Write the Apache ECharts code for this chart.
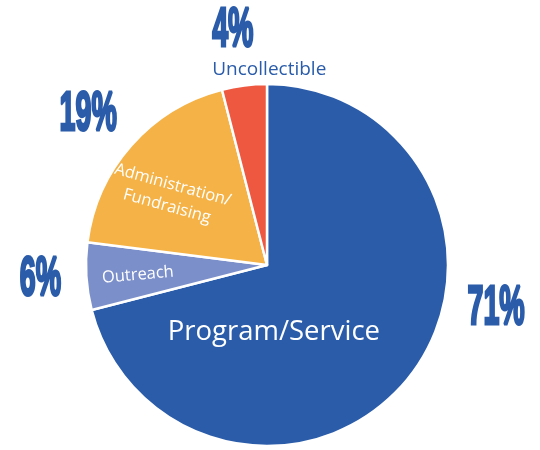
<!DOCTYPE html>
<html>
<head>
<meta charset="utf-8">
<script src="https://cdn.jsdelivr.net/npm/echarts@6/dist/echarts.min.js"></script>
<style>html,body{margin:0;padding:0;background:#fff}#c{width:540px;height:450px}</style>
</head>
<body>
<div id="c"></div>
<script>
const categories = ['Program/Service', 'Outreach', 'Administration/\nFundraising', 'Uncollectible'];
const values = [71, 6, 19, 4];
const percentLabels = ['71%', '6%', '19%', '4%'];
const colors = ['#2A5CAA', '#7B8FCA', '#F5B246', '#EE5840'];

const BLUE = '#2A5CAA';
const PCT_SCALE = 0.52;
// per-label styling (not data)
const nameStyle = [
  {fontSize: 27.5, rotate: 0, color: '#fff', dx: -67, dy: 10},
  {fontSize: 16.5, rotate: 5, color: '#fff', dx: -36, dy: 1},
  {fontSize: 16.5, rotate: -15.5, color: '#fff', dx: -28, dy: 0},
  {fontSize: 19, rotate: 0, color: BLUE, dx: 14, dy: -103}
];
const pctShift = [
  {dx: 45, dy: -99},
  {dx: 6, dy: 0},
  {dx: -4, dy: 4},
  {dx: -5, dy: -3}
];

const chart = echarts.init(document.getElementById('c'));
chart.setOption({
  animation: false,
  series: [
    {
      type: 'pie',
      silent: true,
      center: [267, 265],
      radius: [0, 181],
      startAngle: 90,
      clockwise: true,
      itemStyle: {borderColor: '#fff', borderWidth: 2.5},
      label: {position: 'inside', fontFamily: 'Open Sans', lineHeight: 22},
      labelLine: {show: false},
      labelLayout: function (p) {
        const s = nameStyle[p.dataIndex];
        return {dx: s.dx, dy: s.dy};
      },
      data: categories.map((c, i) => ({
        name: c,
        value: values[i],
        itemStyle: {color: colors[i]},
        label: {
          formatter: c,
          fontSize: nameStyle[i].fontSize,
          rotate: nameStyle[i].rotate,
          color: nameStyle[i].color
        }
      }))
    },
    {
      type: 'pie',
      silent: true,
      center: [267, 265],
      radius: [215, 245],
      startAngle: 90,
      clockwise: true,
      itemStyle: {color: 'rgba(0,0,0,0)'},
      label: {
        position: 'inside',
        fontFamily: 'Liberation Sans',
        fontWeight: 'bold',
        fontSize: 55,
        color: BLUE,
        textBorderColor: BLUE,
        textBorderWidth: 3
      },
      labelLine: {show: false},
      labelLayout: function (p) {
        const s = pctShift[p.dataIndex];
        return {dx: s.dx / PCT_SCALE, dy: s.dy};
      },
      data: categories.map((c, i) => ({
        name: c,
        value: values[i],
        label: {formatter: percentLabels[i]}
      }))
    }
  ]
});

// condense the percentage numerals horizontally
const zr = chart.getZr();
zr.storage.getRoots().forEach(function (root) {
  root.traverse(function (el) {
    const t = el.getTextContent && el.getTextContent();
    if (t && t.style && typeof t.style.text === 'string' && /%$/.test(t.style.text)) {
      t.scaleX = PCT_SCALE;
      t.markRedraw();
    }
  });
});
zr.refreshImmediately();
</script>
</body>
</html>
